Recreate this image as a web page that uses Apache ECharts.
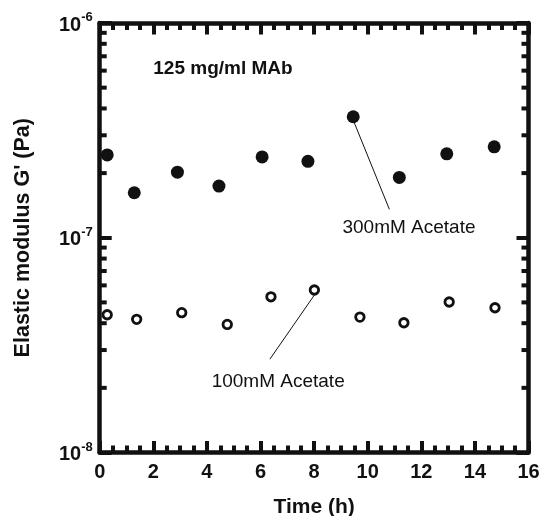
<!DOCTYPE html>
<html><head><meta charset="utf-8">
<script src="https://cdn.jsdelivr.net/npm/echarts@6/dist/echarts.min.js"></script>
<style>html,body{margin:0;padding:0;background:#fff}#c{width:541px;height:516px}</style>
</head><body><div id="c"></div>
<script>
// Data
const time300 = [0.28, 1.29, 2.90, 4.45, 6.06, 7.77, 9.46, 11.18, 12.95, 14.72];
const g300 = [2.43e-7, 1.62e-7, 2.02e-7, 1.74e-7, 2.38e-7, 2.27e-7, 3.66e-7, 1.91e-7, 2.46e-7, 2.65e-7];
const time100 = [0.28, 1.38, 3.06, 4.76, 6.39, 8.01, 9.71, 11.35, 13.04, 14.75];
const g100 = [4.38e-8, 4.17e-8, 4.48e-8, 3.95e-8, 5.31e-8, 5.71e-8, 4.27e-8, 4.02e-8, 5.02e-8, 4.72e-8];
const xTicks = [0, 2, 4, 6, 8, 10, 12, 14, 16];
const yTicks = [1e-8, 1e-7, 1e-6];
const labels = ['300mM Acetate', '100mM Acetate'];
const titleText = '125 mg/ml MAb';
const xTitle = 'Time (h)';
const yTitle = "Elastic modulus G' (Pa)";

// annotation anchors (data coords)
const lead300 = [[9.46, 3.53e-7], [10.81, 1.355e-7]];
const text300 = [11.54, 1.11e-7];
const lead100 = [[8.01, 5.41e-8], [6.35, 2.72e-8]];
const text100 = [6.66, 2.14e-8];
const titleAt = [4.6, 6.11e-7];

// log minor tick values
const minorVals = [];
[1e-8, 1e-7].forEach(d => { for (let k = 2; k <= 9; k++) minorVals.push(k * d); });

const black = '#111';
const FONT = 'Liberation Sans, Arial';
const chart = echarts.init(document.getElementById('c'), null, {renderer: 'canvas'});
const gridPos = {left: 99.7, top: 23, right: 12.5, bottom: 63.5, containLabel: false, outerBoundsMode: 'none'};

const xBase = {
  type: 'value', min: xTicks[0], max: xTicks[xTicks.length - 1], interval: 2,
  axisLine: {show: true, onZero: false, lineStyle: {color: black, width: 4.5}},
  axisTick: {show: true, inside: true, length: 11.5, lineStyle: {color: black, width: 4}},
  minorTick: {show: true, splitNumber: 4, length: 7, lineStyle: {color: black, width: 4}},
  splitLine: {show: false}, minorSplitLine: {show: false}
};
const yBase = {
  type: 'log', logBase: 10, min: yTicks[0], max: yTicks[yTicks.length - 1],
  axisLine: {show: true, onZero: false, lineStyle: {color: black, width: 4.5}},
  axisTick: {show: true, inside: true, length: 12, lineStyle: {color: black, width: 4}},
  splitLine: {show: false}
};

function minorRender(params, api) {
  const v = api.value(0);
  const pL = api.coord([xTicks[0], v]);
  const pR = api.coord([xTicks[xTicks.length - 1], v]);
  const st = {stroke: black, lineWidth: 4};
  return {type: 'group', children: [
    {type: 'line', shape: {x1: pL[0], y1: pL[1], x2: pL[0] + 7, y2: pL[1]}, style: st},
    {type: 'line', shape: {x1: pR[0], y1: pR[1], x2: pR[0] - 7, y2: pR[1]}, style: st}
  ]};
}

chart.setOption({
  animation: false,
  grid: gridPos,
  xAxis: [
    Object.assign({}, xBase, {
      position: 'bottom',
      axisLabel: {show: true, margin: 10, color: black, fontFamily: FONT, fontWeight: 'bold', fontSize: 20},
      name: xTitle, nameLocation: 'middle', nameGap: 44,
      nameTextStyle: {color: black, fontFamily: FONT, fontWeight: 'bold', fontSize: 21}
    }),
    Object.assign({}, xBase, {position: 'top', axisLabel: {show: false}})
  ],
  yAxis: [
    Object.assign({}, yBase, {
      position: 'left',
      axisLabel: {
        show: true, margin: 7,
        formatter: v => '{b|10}{s|' + Math.round(Math.log10(v)) + '}',
        rich: {
          b: {fontFamily: FONT, fontWeight: 'bold', fontSize: 20, color: black, padding: [4, 0, 0, 0]},
          s: {fontFamily: FONT, fontWeight: 'bold', fontSize: 13, color: black, verticalAlign: 'top', padding: [0, 0, 10, 0]}
        }
      }
    }),
    Object.assign({}, yBase, {position: 'right', axisLabel: {show: false}})
  ],
  series: [
    {
      type: 'scatter', name: labels[0], xAxisIndex: 0, yAxisIndex: 0,
      data: time300.map((t, i) => [t, g300[i]]),
      symbol: 'circle', symbolSize: 13, itemStyle: {color: black, opacity: 1},
      markLine: {
        silent: true, symbol: 'none', label: {show: false},
        lineStyle: {color: black, width: 1, type: 'solid'},
        data: [[{coord: lead300[0]}, {coord: lead300[1]}]]
      }
    },
    {
      type: 'scatter', name: labels[1], xAxisIndex: 0, yAxisIndex: 0,
      data: time100.map((t, i) => [t, g100[i]]),
      symbol: 'circle', symbolSize: 8.5, itemStyle: {color: '#fff', borderColor: black, borderWidth: 2.8, opacity: 1},
      markLine: {
        silent: true, symbol: 'none', label: {show: false},
        lineStyle: {color: black, width: 1, type: 'solid'},
        data: [[{coord: lead100[0]}, {coord: lead100[1]}]]
      }
    },
    {
      type: 'custom', xAxisIndex: 0, yAxisIndex: 0, silent: true,
      data: minorVals.map(v => [v]),
      encode: {y: 0},
      renderItem: minorRender, clip: false, z: 5
    }
  ]
});

function px(c) { return chart.convertToPixel({xAxisIndex: 0, yAxisIndex: 0}, c); }
const pT = px(titleAt), p3 = px(text300), p1 = px(text100);
const plotMidY = (px([0, yTicks[0]])[1] + px([0, yTicks[2]])[1]) / 2;
chart.setOption({
  graphic: [
    {type: 'text', x: pT[0], y: pT[1], style: {text: titleText, font: 'bold 19px "Liberation Sans", Arial', fill: black, align: 'center', verticalAlign: 'middle'}},
    {type: 'text', x: p3[0], y: p3[1], style: {text: labels[0], font: '19px "Liberation Sans", Arial', fill: black, align: 'center', verticalAlign: 'middle'}},
    {type: 'text', x: p1[0], y: p1[1], style: {text: labels[1], font: '19px "Liberation Sans", Arial', fill: black, align: 'center', verticalAlign: 'middle'}},
    {type: 'text', x: 23, y: plotMidY, rotation: Math.PI / 2, style: {text: yTitle, font: 'bold 21.5px "Liberation Sans", Arial', fill: black, align: 'center', verticalAlign: 'middle'}}
  ]
});
</script></body></html>
